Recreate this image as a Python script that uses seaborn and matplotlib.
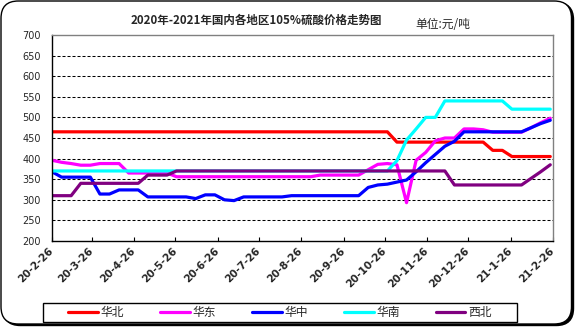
import matplotlib
matplotlib.use("Agg")
import matplotlib.pyplot as plt
from matplotlib.patches import FancyBboxPatch, Rectangle
from matplotlib.transforms import ScaledTranslation
import seaborn as sns
import pandas as pd

# Weekly quotes, 105% sulfuric acid (元/吨)
start_date = "2020-02-26"
regions = ["华北", "华东", "华中", "华南", "西北"]
colors = ["#FF0000", "#FF00FF", "#0000FF", "#00FFFF", "#800080"]

north = [465, 465, 465, 465, 465, 465, 465, 465, 465, 465, 465, 465, 465,
         465, 465, 465, 465, 465, 465, 465, 465, 465, 465, 465, 465, 465,
         465, 465, 465, 465, 465, 465, 465, 465, 465, 465, 440, 440, 440,
         440, 440, 440, 440, 440, 440, 440, 420, 420, 405, 405, 405, 405, 405]
east = [396, 391, 388, 384, 384, 388, 388, 388, 365, 365, 365, 365, 365,
        356, 356, 356, 356, 356, 356, 356, 356, 356, 356, 356, 356, 356,
        356, 356, 360, 360, 360, 360, 360, 373, 386, 388, 385, 293, 396,
        415, 443, 450, 450, 472, 472, 470, 464, 464, 464, 464, 475, 487, 498]
central = [368, 355, 355, 355, 355, 314, 314, 324, 324, 324, 307, 307, 307,
           307, 307, 303, 312, 312, 300, 298, 307, 307, 307, 307, 307, 310,
           310, 310, 310, 310, 310, 310, 310, 330, 336, 338, 343, 348, 368,
           390, 410, 430, 442, 465, 465, 465, 465, 465, 465, 465, 475, 485, 493]
south = [370, 370, 370, 370, 370, 370, 370, 370, 370, 370, 370, 370, 370,
         370, 370, 370, 370, 370, 370, 370, 370, 370, 370, 370, 370, 370,
         370, 370, 370, 370, 370, 370, 370, 370, 370, 370, 395, 445, 472,
         500, 500, 540, 540, 540, 540, 540, 540, 540, 520, 520, 520, 520, 520]
northwest = [310, 310, 310, 340, 340, 340, 340, 340, 340, 340, 360, 360, 360,
             370, 370, 370, 370, 370, 370, 370, 370, 370, 370, 370, 370, 370,
             370, 370, 370, 370, 370, 370, 370, 370, 370, 370, 370, 370, 370,
             370, 370, 370, 336, 336, 336, 336, 336, 336, 336, 336, 352, 368, 385]

tick_dates = ["2020-02-26", "2020-03-26", "2020-04-26", "2020-05-26",
              "2020-06-26", "2020-07-26", "2020-08-26", "2020-09-26",
              "2020-10-26", "2020-11-26", "2020-12-26", "2021-01-26",
              "2021-02-26"]
y_ticks = [200, 250, 300, 350, 400, 450, 500, 550, 600, 650, 700]

series = [north, east, central, south, northwest]
dates = pd.date_range(start_date, periods=len(north), freq="7D")
df = pd.concat([pd.DataFrame({"date": dates, "price": vals, "region": name})
                for name, vals in zip(regions, series)], ignore_index=True)

sns.set_theme(style="white")
plt.rcParams["font.family"] = ["Noto Sans CJK SC", "DejaVu Sans"]
plt.rcParams["axes.unicode_minus"] = False

W, H = 576, 327
fig = plt.figure(figsize=(W / 100, H / 100), dpi=100)
fig.patch.set_facecolor("white")

# rounded frame with a slight drop shadow
shadow = FancyBboxPatch((3 / W, 1.5 / H), (W - 5.5) / W, (H - 4) / H,
                        boxstyle="round,pad=0,rounding_size=0.03",
                        transform=fig.transFigure, facecolor="black",
                        edgecolor="black", lw=1.0, zorder=-2,
                        mutation_aspect=W / H)
frame = FancyBboxPatch((1 / W, 3 / H), (W - 5.5) / W, (H - 4) / H,
                       boxstyle="round,pad=0,rounding_size=0.03",
                       transform=fig.transFigure, facecolor="white",
                       edgecolor="black", lw=1.0, zorder=-1,
                       mutation_aspect=W / H)
fig.patches.extend([shadow, frame])

ax = fig.add_axes([52 / W, 1 - 241 / H, (553 - 52) / W, (241 - 35) / H])
ax.set_facecolor("none")

sns.lineplot(data=df, x="date", y="price", hue="region", hue_order=regions,
             palette=colors, linewidth=2.3, ax=ax, legend=False)

ax.set_ylim(200, 700)
ax.set_yticks(y_ticks)
ax.set_yticklabels([str(v) for v in y_ticks], fontsize=7,
                   family="DejaVu Sans")
ticks = pd.to_datetime(tick_dates)
ax.set_xlim(ticks[0], ticks[-1])
ax.set_xticks(ticks)
ax.set_xticklabels([f"{d.year % 100}-{d.month}-{d.day}" for d in ticks],
                   rotation=45, ha="right", va="center",
                   rotation_mode="anchor", fontsize=7.5, fontweight="bold",
                   family="DejaVu Sans")
offset = ScaledTranslation(-7 / 100, -9 / 100, fig.dpi_scale_trans)
for lbl in ax.get_xticklabels():
    lbl.set_transform(lbl.get_transform() + offset)

ax.set_xlabel("")
ax.set_ylabel("")
ax.tick_params(axis="x", direction="in", length=3, width=0.8, color="black",
               pad=6, bottom=True)
ax.tick_params(axis="y", length=0, pad=8)

for v in y_ticks[1:-1]:
    ax.axhline(v, color="black", lw=0.75, ls=(0, (2.9, 1.9)), zorder=0.5)

for side in ["left", "bottom"]:
    ax.spines[side].set_color("black")
    ax.spines[side].set_linewidth(1.0)
for side in ["top", "right"]:
    ax.spines[side].set_color("#808080")
    ax.spines[side].set_linewidth(1.0)

fig.text(256 / W, 1 - 20 / H, "2020年-2021年国内各地区105%硫酸价格走势图",
         ha="center", va="center", fontsize=8.3, fontweight="bold")
fig.text(415 / W, 1 - 25 / H, "单位:元/吨", ha="left", va="center",
         fontsize=8.5)

# legend box drawn separately so the entries keep their own spacing
fig.patches.append(Rectangle((43 / W, 1 - 322 / H), (517 - 43) / W,
                             (322 - 303) / H, transform=fig.transFigure,
                             facecolor="white", edgecolor="black", lw=1.0,
                             zorder=1))
handles = ax.get_lines()[:len(regions)]
leg = fig.legend(handles, regions, loc="center",
                 bbox_to_anchor=(280 / W, 1 - 312.5 / H), ncol=5,
                 fontsize=8.5, frameon=False,
                 handlelength=2.5, handletextpad=0.25, columnspacing=3.05,
                 borderpad=0.2, borderaxespad=0)
leg.set_zorder(2)
for line in leg.get_lines():
    line.set_linewidth(2.3)

fig.savefig("out.png", dpi=100, facecolor="white")
